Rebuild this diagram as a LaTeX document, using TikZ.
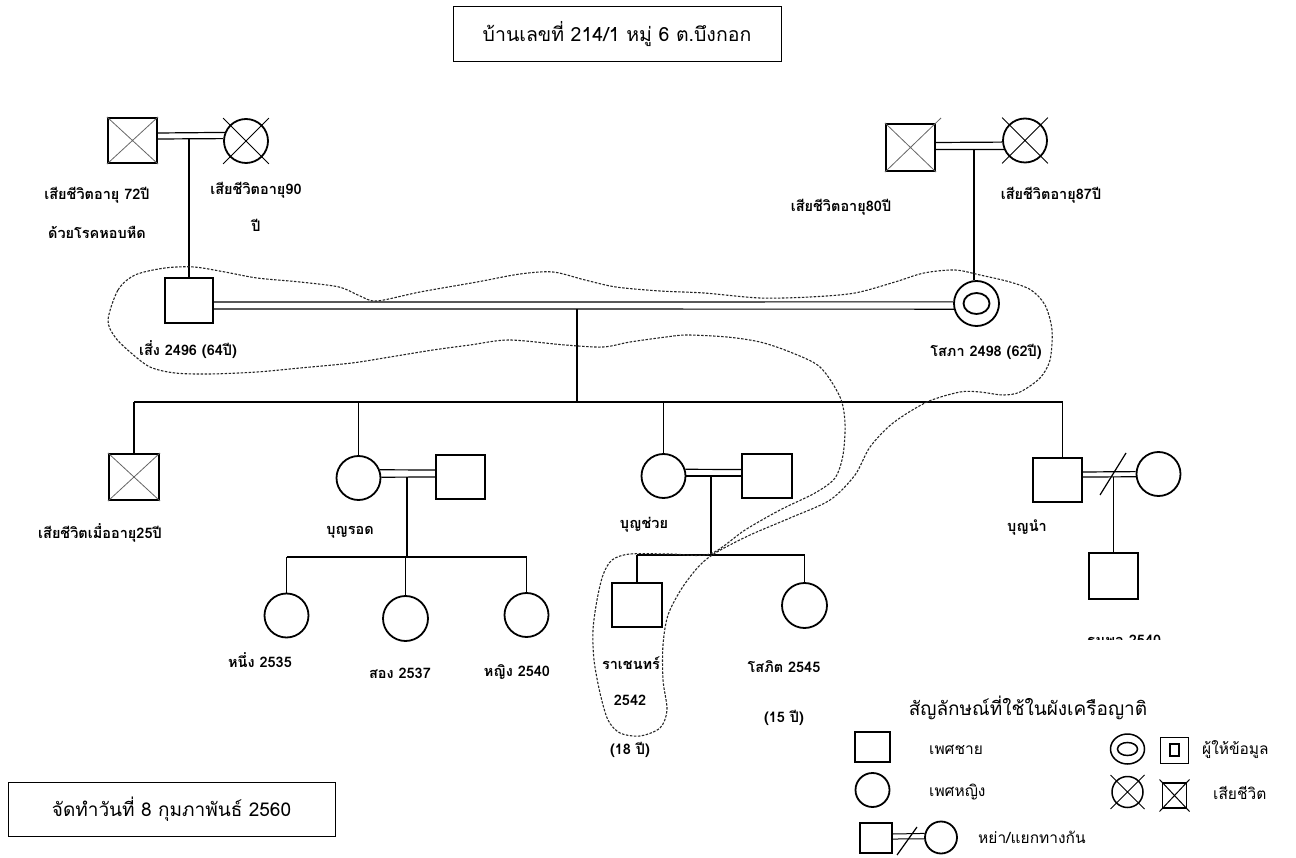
\documentclass[tikz,border=0pt]{standalone}
\usepackage{fontspec}
\setmainfont[Script=Thai]{Loma}
\usetikzlibrary{shapes.geometric,calc}
\begin{document}
\begin{tikzpicture}[x=1pt,y=-1pt,
  male/.style={draw,line width=2.2pt,rectangle,inner sep=0,minimum width=49pt,minimum height=45pt},
  female/.style={draw,line width=1.8pt,circle,inner sep=0,minimum size=44pt},
  conn/.style={line width=1.2pt},
  xln/.style={line width=0.8pt,black!60},
  lbl/.style={inner sep=0,font=\fontsize{14.5}{14.5}\selectfont\bfseries},
  lgd/.style={inner sep=0,anchor=west,font=\fontsize{15.5}{15.5}\selectfont},
  boxt/.style={draw,line width=1pt,inner sep=0},
  outline/.style={line width=1.1pt,black!85,dash pattern=on 2.5pt off 1.5pt}
]
\useasboundingbox (0,0) rectangle (1296,858);

% title boxes
\node[boxt,minimum width=328pt,minimum height=55pt,font=\fontsize{19.5}{19.5}\selectfont] (title) at (617,34.5) {บ้านเลขที่ 214/1 หมู่ 6 ต.บึงกอก};
\node[boxt,minimum width=327pt,minimum height=54pt,font=\fontsize{19}{19}\selectfont] (date) at (171.5,809) {จัดทำวันที่ 8 กุมภาพันธ์ 2560};

% grandparents left
\node[male] (gf1) at (132.5,140.5) {};
\node[female] (gm1) at (246,141) {};
\draw[xln] (gf1.north west) -- (gf1.south east) (gf1.north east) -- (gf1.south west);
\draw[xln,black] (gm1.north -| gm1.west) -- (gm1.south -| gm1.east) (gm1.north -| gm1.east) -- (gm1.south -| gm1.west);
\draw[conn] ([yshift=7.5pt]gf1.east) -- (gm1.158.7);
\draw[conn] ([yshift=1.5pt]gf1.east) -- (gm1.174.8);
\node[lbl] (lgf1a) at (97,195) {เสียชีวิตอายุ 72ปี};
\node[lbl] (lgf1b) at (97,232) {ด้วยโรคหอบหืด};
\node[lbl] (lgm1a) at (256,190) {เสียชีวิตอายุ90};
\node[lbl] (lgm1b) at (256,225) {ปี};

% grandparents right
\node[male,minimum height=47pt] (gf2) at (910.5,147.5) {};
\node[female] (gm2) at (1025,140.5) {};
\draw[xln] (gf2.north west) -- (gf2.south east) (gf2.south west) -- ($(gf2.north east)+(5,-5)$);
\draw[xln,black] (gm2.north -| gm2.west) -- (gm2.south -| gm2.east) (gm2.north -| gm2.east) -- (gm2.south -| gm2.west);
\draw[conn] ([yshift=5pt]gf2.east) -- (gm2.184.7);
\draw[conn] ([yshift=-2pt]gf2.east) -- (gm2.203.6);
\node[lbl] (lgf2) at (841,207) {เสียชีวิตอายุ80ปี};
\node[lbl] (lgm2) at (1051,195) {เสียชีวิตอายุ87ปี};

% parents
\node[male,minimum width=48pt] (seng) at (189,300.5) {};
\node[female,minimum size=45pt] (sopa) at (976.5,303.5) {};
\node[draw,ellipse,line width=1.8pt,inner sep=0,minimum width=26pt,minimum height=21pt] (sopain) at (sopa.center) {};
\draw[conn] ([yshift=-1.5pt]seng.east) -- (sopa.176.2);
\draw[conn] ([yshift=-8.5pt]seng.east) -- (sopa.194.1);
\draw[conn] (seng.north) -- (seng.north |- gm1.174.8);
\coordinate (sopatop) at ([xshift=-2.5pt]sopa.north);
\draw[conn] (sopatop) -- (sopatop |- gm2.203.6);
\node[lbl] (lseng) at (188,350) {เสี่ง 2496 (64ปี)};
\node[lbl] (lsopa) at (986,352) {โสภา 2498 (62ปี)};

% children
\coordinate (sib) at (577,402);
\node[male,minimum width=50pt,minimum height=46pt] (c1) at (134,477) {};
\draw[xln] (c1.north west) -- (c1.south east) (c1.north east) -- (c1.south west);
\node[female] (c2) at (358.5,478) {};
\node[male,minimum height=44pt] (sp2) at (460.5,477) {};
\node[female] (c3) at (663.5,476) {};
\node[male,minimum width=50pt,minimum height=44pt] (sp3) at (767,476) {};
\node[male,minimum height=44pt] (c4) at (1057.5,480) {};
\node[female] (sp4) at (1158.5,474) {};
\coordinate (c4top) at ([xshift=5pt]c4.north);
\draw[conn] (sib) -- (sib |- sopa.194.1);
\draw[conn] (c1.north |- sib) -- (c4top |- sib);
\draw[conn] (c1.north) -- (c1.north |- sib);
\draw[conn] (c2.north) -- (c2.north |- sib);
\draw[conn] (c3.north) -- (c3.north |- sib);
\draw[conn] (c4top) -- (c4top |- sib);
\draw[conn] (c2.21.3) -- ([yshift=7pt]sp2.west);
\draw[conn] (c2.2.6) -- (sp2.west);
\draw[conn] (c3.17.2) -- ([yshift=6.5pt]sp3.west);
\draw[conn] (c3.east) -- (sp3.west);
\draw[conn] ([yshift=8pt]c4.east) -- (sp4.174.8);
\draw[conn] ([yshift=3pt]c4.east) -- (sp4.187.8);
\coordinate (sl4) at (1113,474);
\draw[conn] ($(sl4)+(-13,21)$) -- ($(sl4)+(13,-21)$);
\node[lbl] (lc1) at (100,533) {เสียชีวิตเมื่ออายุ25ปี};
\node[lbl] (lc2) at (350,532) {บุญรอด};
\node[lbl] (lc3) at (644,525) {บุญช่วย};
\node[lbl] (lc4) at (1027,527) {บุญนำ};

% grandchildren of c2
\coordinate (gl1) at (407,557);
\node[female] (g1) at (286.5,615.5) {};
\node[female,minimum size=45pt] (g2) at (405.5,618.5) {};
\node[female] (g3) at (526.5,615) {};
\draw[conn] (gl1) -- (gl1 |- c2.2.6);
\draw[conn] (g1.north |- gl1) -- (g3.north |- gl1);
\draw[conn] (g1.north) -- (g1.north |- gl1);
\draw[conn] (g2.north) -- (g2.north |- gl1);
\draw[conn] (g3.north) -- (g3.north |- gl1);
\node[lbl] (lg1) at (260,660) {หนึ่ง 2535};
\node[lbl] (lg2) at (400,673) {สอง 2537};
\node[lbl] (lg3) at (517,672) {หญิง 2540};

% grandchildren of c3
\coordinate (gl2) at (711,555);
\node[male,minimum width=50pt,minimum height=44pt] (rj) at (637,605) {};
\node[female,minimum size=45pt] (sp) at (804.5,605.5) {};
\draw[conn] (gl2) -- (gl2 |- c3.east);
\draw[conn] (rj.north |- gl2) -- (sp.north |- gl2);
\draw[conn] (rj.north) -- (rj.north |- gl2);
\draw[conn] (sp.north) -- (sp.north |- gl2);
\node[lbl] (lrj1) at (631,663) {ราเชนทร์};
\node[lbl] (lrj2) at (630,700) {2542};
\node[lbl] (lrj3) at (630,750) {(18 ปี)};
\node[lbl] (lsp1) at (784,667) {โสภิต 2545};
\node[lbl] (lsp2) at (784,718) {(15 ปี)};

% grandchild of c4
\node[male,minimum height=46pt] (tp) at (1113.5,576) {};
\draw[conn] (tp.north) -- (tp.north |- sp4.187.8);
\begin{scope}
\clip (1060,622) rectangle (1190,639);
\node[lbl] (ltp) at (1124,640) {ธนพล 2540};
\end{scope}

% dashed outline
\draw[outline] plot[smooth cycle,tension=0.5] coordinates {
(108,320) (118,290) (135,275) (165,268) (194,267) (225,272) (257,278) (300,282) (339,287) (360,296) (377,301) (420,292) (477,282) (520,274) (553,272) (585,280) (616,287) (660,291) (704,293) (760,298) (810,297) (855,293) (895,282) (924,273) (955,270) (980,275) (1010,282) (1031,290) (1045,305) (1052,330) (1050,360) (1040,378) (1020,392) (1003,395) (980,392) (960,392) (927,402) (893,423) (870,447) (855,475) (830,500) (790,518) (750,535) (717,552) (700,565) (682,588) (668,615) (663,645) (663,680) (667,710) (660,728) (640,736) (620,733) (608,720) (600,693) (594,660) (593,630) (597,600) (603,575) (612,560) (630,554) (670,554) (710,554) (745,530) (780,510) (815,493) (835,478) (843,455) (845,423) (840,397) (820,367) (790,352) (760,342) (727,337) (687,335) (666,337) (630,342) (603,347) (565,345) (509,340) (470,345) (433,350) (390,357) (352,363) (300,368) (257,372) (210,374) (175,373) (150,367) (130,352) (115,337)};

% legend
\node[inner sep=0,font=\fontsize{19}{19}\selectfont] (lgt) at (1028,708) {สัญลักษณ์ที่ใช้ในผังเครือญาติ};
\node[draw,line width=1.8pt,inner sep=0,minimum width=35pt,minimum height=30pt] (lm) at (872.5,747) {};
\node[lgd] (lmt) at (929,750) {เพศชาย};
\node[draw,line width=1.8pt,circle,inner sep=0,minimum size=34pt] (lf) at (872.5,790) {};
\node[lgd] (lft) at (929,792) {เพศหญิง};
\node[draw,line width=1.5pt,ellipse,inner sep=0,minimum width=34pt,minimum height=30pt] (li1) at (1127.5,749) {};
\node[draw,line width=1.5pt,ellipse,inner sep=0,minimum width=20pt,minimum height=13pt] (li1in) at (li1.center) {};
\node[draw,line width=0.8pt,inner sep=0,minimum width=28pt,minimum height=26pt] (li2) at (1174,750) {};
\node[draw,line width=2pt,inner sep=0,minimum width=9pt,minimum height=12pt] (li2in) at (li2.center) {};
\node[lgd] (lit) at (1202,750) {ผู้ให้ข้อมูล};
\node[draw,line width=1.5pt,circle,inner sep=0,minimum size=31pt] (ld1) at (1127.5,792) {};
\draw[line width=1pt] ($(ld1.center)+(-17,-17)$) -- ($(ld1.center)+(17,17)$) ($(ld1.center)+(17,-17)$) -- ($(ld1.center)+(-17,17)$);
\node[draw,line width=1.8pt,inner sep=0,minimum width=24pt,minimum height=25pt] (ld2) at (1174.5,795.5) {};
\draw[line width=1pt] ($(ld2.center)+(-15,-16)$) -- ($(ld2.center)+(15,16)$) ($(ld2.center)+(15,-16)$) -- ($(ld2.center)+(-15,16)$);
\node[lgd] (ldt) at (1213,793) {เสียชีวิต};
\node[draw,line width=1.8pt,inner sep=0,minimum width=32pt,minimum height=30pt] (lv1) at (876,838) {};
\node[draw,line width=1.8pt,circle,inner sep=0,minimum size=32pt] (lv2) at (941,837.5) {};
\draw[line width=1pt] ([yshift=4pt]lv1.east) -- (lv2.166);
\draw[line width=1pt] ([yshift=-1pt]lv1.east) -- (lv2.185);
\coordinate (slv) at (907,841);
\draw[conn] ($(slv)+(-10,14)$) -- ($(slv)+(10,-14)$);
\node[lgd] (lvt) at (978,837) {หย่า/แยกทางกัน};
\end{tikzpicture}
\end{document}
